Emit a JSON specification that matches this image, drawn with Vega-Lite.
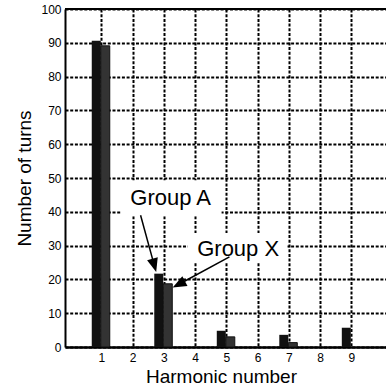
{
  "$schema": "https://vega.github.io/schema/vega-lite/v6.json",
  "width": 321,
  "height": 338,
  "autosize": {"type": "none"},
  "padding": {"left": 65, "top": 9, "right": 0, "bottom": 44},
  "background": "white",
  "config": {
    "view": {"stroke": null},
    "font": "Liberation Sans",
    "axis": {
      "ticks": false,
      "grid": true,
      "gridColor": "black",
      "gridWidth": 2,
      "gridDash": [3, 1.7],
      "domainColor": "black",
      "labelColor": "black",
      "labelFontSize": 12,
      "labelOverlap": false,
      "titleColor": "black",
      "titleFontSize": 19,
      "titleFontWeight": "normal"
    },
    "axisX": {"domainWidth": 2.5, "labelPadding": 5, "titlePadding": 4, "titleX": 156},
    "axisY": {"domainWidth": 2, "labelPadding": 4, "titlePadding": 6}
  },
  "datasets": {
    "turns": [
      {"harmonic": 1, "group": "Group A", "turns": 90.6},
      {"harmonic": 3, "group": "Group A", "turns": 21.7},
      {"harmonic": 5, "group": "Group A", "turns": 4.8},
      {"harmonic": 7, "group": "Group A", "turns": 3.6},
      {"harmonic": 9, "group": "Group A", "turns": 5.7},
      {"harmonic": 1, "group": "Group X", "turns": 89.1},
      {"harmonic": 3, "group": "Group X", "turns": 18.7},
      {"harmonic": 5, "group": "Group X", "turns": 3.0},
      {"harmonic": 7, "group": "Group X", "turns": 1.3},
      {"harmonic": 9, "group": "Group X", "turns": 0}
    ],
    "boxes": [
      {"label": "Group A", "harmonic": 1.63, "harmonic2": 4.85, "turns": 38.7, "turns2": 49.3},
      {"label": "Group X", "harmonic": 3.77, "harmonic2": 6.96, "turns": 25.1, "turns2": 33.7}
    ],
    "arrows": [
      {"label": "Group A", "harmonic": 2.258, "turns": 39.0, "harmonic2": 2.677, "turns2": 24.83},
      {"label": "Group X", "harmonic": 5.101, "turns": 26.65, "harmonic2": 3.546, "turns2": 18.86}
    ],
    "notes": [
      {"label": "Group A", "harmonic": 3.22, "turns": 44.2},
      {"label": "Group X", "harmonic": 5.38, "turns": 28.9}
    ]
  },
  "layer": [
    {
      "data": {"name": "turns"},
      "transform": [{"filter": "datum.group === 'Group A'"}],
      "mark": {"type": "bar", "orient": "vertical", "width": 9, "xOffset": -5, "color": "#111111"},
      "encoding": {
        "x": {
          "field": "harmonic", "type": "quantitative", "title": "Harmonic number",
          "scale": {"domain": [0, 9.95], "nice": false, "zero": true},
          "axis": {"values": [1, 2, 3, 4, 5, 6, 7, 8, 9]}
        },
        "y": {
          "field": "turns", "type": "quantitative", "title": "Number of turns",
          "scale": {"domain": [0, 100], "nice": false},
          "axis": {"values": [0, 10, 20, 30, 40, 50, 60, 70, 80, 90, 100]}
        }
      }
    },
    {
      "data": {"name": "turns"},
      "transform": [{"filter": "datum.group === 'Group X' && datum.turns > 0"}],
      "mark": {"type": "bar", "orient": "vertical", "width": 9, "xOffset": 4, "color": "#333333", "stroke": "#111111", "strokeWidth": 1},
      "encoding": {
        "x": {"field": "harmonic", "type": "quantitative", "title": "Harmonic number", "axis": {"values": [1, 2, 3, 4, 5, 6, 7, 8, 9]}},
        "y": {"field": "turns", "type": "quantitative", "title": "Number of turns", "axis": {"values": [0, 10, 20, 30, 40, 50, 60, 70, 80, 90, 100]}}
      }
    },
    {
      "data": {"name": "boxes"},
      "mark": {"type": "rect", "fill": "white"},
      "encoding": {
        "x": {"field": "harmonic", "type": "quantitative", "title": "Harmonic number", "axis": {"values": [1, 2, 3, 4, 5, 6, 7, 8, 9]}},
        "x2": {"field": "harmonic2"},
        "y": {"field": "turns", "type": "quantitative", "title": "Number of turns", "axis": {"values": [0, 10, 20, 30, 40, 50, 60, 70, 80, 90, 100]}},
        "y2": {"field": "turns2"}
      }
    },
    {
      "data": {"name": "turns"},
      "transform": [{"filter": "datum.harmonic === 1 && datum.group === 'Group A'"}],
      "mark": {"type": "rule", "color": "black", "strokeWidth": 2},
      "encoding": {
        "y": {"datum": 100, "type": "quantitative", "title": "Number of turns", "axis": {"values": [0, 10, 20, 30, 40, 50, 60, 70, 80, 90, 100]}}
      }
    },
    {
      "data": {"name": "arrows"},
      "mark": {"type": "rule", "color": "black", "strokeWidth": 1.5},
      "encoding": {
        "x": {"field": "harmonic", "type": "quantitative", "title": "Harmonic number", "axis": {"values": [1, 2, 3, 4, 5, 6, 7, 8, 9]}},
        "x2": {"field": "harmonic2"},
        "y": {"field": "turns", "type": "quantitative", "title": "Number of turns", "axis": {"values": [0, 10, 20, 30, 40, 50, 60, 70, 80, 90, 100]}},
        "y2": {"field": "turns2"}
      }
    },
    {
      "data": {"name": "arrows"},
      "transform": [{"filter": "datum.label === 'Group A'"}],
      "mark": {"type": "point", "shape": "M0,-1L0.6,0.5L-0.6,0.5Z", "filled": true, "color": "black", "opacity": 1, "size": 340, "angle": 164.2},
      "encoding": {
        "x": {"field": "harmonic2", "type": "quantitative", "title": "Harmonic number", "axis": {"values": [1, 2, 3, 4, 5, 6, 7, 8, 9]}},
        "y": {"field": "turns2", "type": "quantitative", "title": "Number of turns", "axis": {"values": [0, 10, 20, 30, 40, 50, 60, 70, 80, 90, 100]}}
      }
    },
    {
      "data": {"name": "arrows"},
      "transform": [{"filter": "datum.label === 'Group X'"}],
      "mark": {"type": "point", "shape": "M0,-1L0.6,0.5L-0.6,0.5Z", "filled": true, "color": "black", "opacity": 1, "size": 340, "angle": 242.3},
      "encoding": {
        "x": {"field": "harmonic2", "type": "quantitative", "title": "Harmonic number", "axis": {"values": [1, 2, 3, 4, 5, 6, 7, 8, 9]}},
        "y": {"field": "turns2", "type": "quantitative", "title": "Number of turns", "axis": {"values": [0, 10, 20, 30, 40, 50, 60, 70, 80, 90, 100]}}
      }
    },
    {
      "data": {"name": "notes"},
      "mark": {"type": "text", "fontSize": 22, "color": "black", "align": "center", "baseline": "middle"},
      "encoding": {
        "x": {"field": "harmonic", "type": "quantitative", "title": "Harmonic number", "axis": {"values": [1, 2, 3, 4, 5, 6, 7, 8, 9]}},
        "y": {"field": "turns", "type": "quantitative", "title": "Number of turns", "axis": {"values": [0, 10, 20, 30, 40, 50, 60, 70, 80, 90, 100]}},
        "text": {"field": "label"}
      }
    }
  ]
}
